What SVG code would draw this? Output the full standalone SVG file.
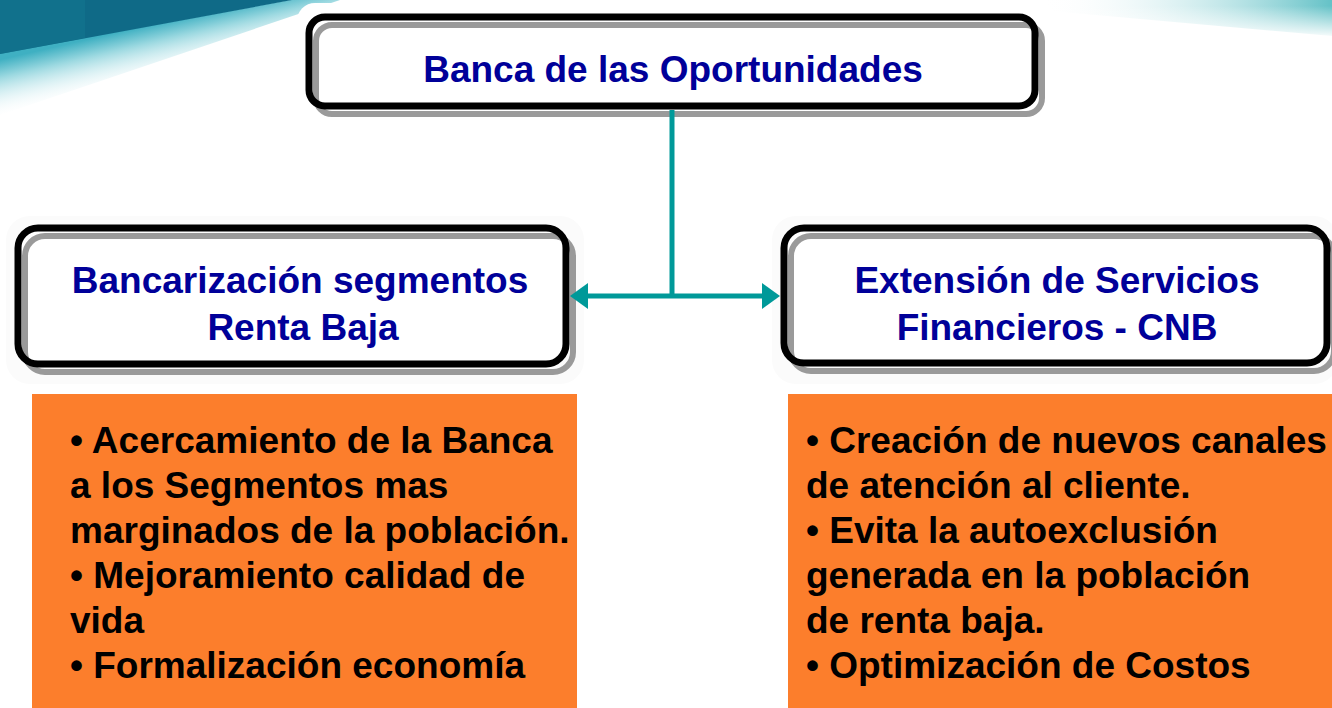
<svg xmlns="http://www.w3.org/2000/svg" width="1332" height="708" viewBox="0 0 1332 708">
<style>
.halo{fill:#fbfbfb}
.fillw{fill:#ffffff}
.shadow{fill:none;stroke:#9a9a9a;stroke-width:6}
.frame{fill:none;stroke:#000000;stroke-width:7}
.ttl{font-family:"Liberation Sans",Arial,sans-serif;font-weight:bold;font-size:37px;fill:#000099;text-anchor:middle}
.bul{font-family:"Liberation Sans",Arial,sans-serif;font-weight:bold;font-size:37px;fill:#000000}
.orange{fill:#fc7e2c}
.conn{fill:none;stroke:#009999;stroke-width:5}
</style>
<defs>
<linearGradient id="band" gradientUnits="userSpaceOnUse" x1="145" y1="26" x2="158" y2="82">
<stop offset="0" stop-color="#3fb0c2"/>
<stop offset="0.3" stop-color="#9ad8e0"/>
<stop offset="1" stop-color="#ffffff" stop-opacity="0"/>
</linearGradient>
<linearGradient id="tr" x1="0" y1="0" x2="1" y2="0">
<stop offset="0" stop-color="#ffffff" stop-opacity="0"/>
<stop offset="1" stop-color="#49b7bd"/>
</linearGradient>
<linearGradient id="trv" x1="0" y1="0" x2="0" y2="1">
<stop offset="0" stop-color="#ffffff" stop-opacity="0"/>
<stop offset="1" stop-color="#ffffff"/>
</linearGradient>
<marker id="arr" markerUnits="userSpaceOnUse" markerWidth="18" markerHeight="26" refX="0" refY="13" orient="auto-start-reverse" viewBox="0 0 18 26">
<path d="M0,0 L18,13 L0,26 z" fill="#009999"/>
</marker>
</defs>
<rect x="0" y="0" width="1332" height="708" fill="#ffffff"/>
<g id="background">
<polygon points="0,53 290,0 340,0 0,115" fill="url(#band)"/>
<polygon points="0,0 292,0 0,54" fill="#0f6a87"/>
<polygon points="0,0 85,0 85,38 0,54" fill="#13778f" opacity="0.6"/>
<polygon points="1040,0 1332,0 1332,36 1040,10" fill="url(#tr)" opacity="0.85"/>
<rect x="1040" y="6" width="292" height="32" fill="url(#trv)"/>
</g>
<g id="node-top">
<rect x="297" y="3" width="760" height="125" rx="18" class="fillw"/>
<rect x="309" y="17" width="726" height="89" rx="16" class="fillw"/>
<rect x="316" y="25" width="726" height="89" rx="16" class="shadow"/>
<rect x="309" y="17" width="726" height="89" rx="16" class="frame"/>
<text x="673" y="82" class="ttl">Banca de las Oportunidades</text>
</g>
<g id="node-left">
<rect x="6" y="216" width="578" height="168" rx="24" class="halo"/>
<rect x="18" y="228" width="548" height="136" rx="20" class="fillw"/>
<rect x="25" y="236" width="548" height="136" rx="20" class="shadow"/>
<rect x="18" y="228" width="548" height="136" rx="20" class="frame"/>
<text x="300" y="293" class="ttl">Bancarización segmentos</text>
<text x="303" y="340" class="ttl">Renta Baja</text>
</g>
<g id="node-right">
<rect x="772" y="216" width="566" height="168" rx="24" class="halo"/>
<rect x="784" y="228" width="543" height="135" rx="20" class="fillw"/>
<rect x="791" y="236" width="543" height="135" rx="20" class="shadow"/>
<rect x="784" y="228" width="543" height="135" rx="20" class="frame"/>
<text x="1057" y="293" class="ttl">Extensión de Servicios</text>
<text x="1057" y="340" class="ttl">Financieros - CNB</text>
</g>
<g id="list-left">
<rect x="32" y="394" width="545" height="314" class="orange"/>
<text class="bul" x="70" y="453">• Acercamiento de la Banca</text>
<text class="bul" x="70" y="498">a los Segmentos mas</text>
<text class="bul" x="70" y="543">marginados de la población.</text>
<text class="bul" x="70" y="588">• Mejoramiento calidad de</text>
<text class="bul" x="70" y="633">vida</text>
<text class="bul" x="70" y="678">• Formalización economía</text>
</g>
<g id="list-right">
<rect x="788" y="394" width="544" height="314" class="orange"/>
<text class="bul" x="806" y="453">• Creación de nuevos canales</text>
<text class="bul" x="806" y="498">de atención al cliente.</text>
<text class="bul" x="806" y="543">• Evita la autoexclusión</text>
<text class="bul" x="806" y="588">generada en la población</text>
<text class="bul" x="806" y="633">de renta baja.</text>
<text class="bul" x="806" y="678">• Optimización de Costos</text>
</g>
<g id="connectors">
<path class="conn" d="M672,110 V298"/>
<path class="conn" d="M588,296 H762" marker-start="url(#arr)" marker-end="url(#arr)"/>
</g>
</svg>
